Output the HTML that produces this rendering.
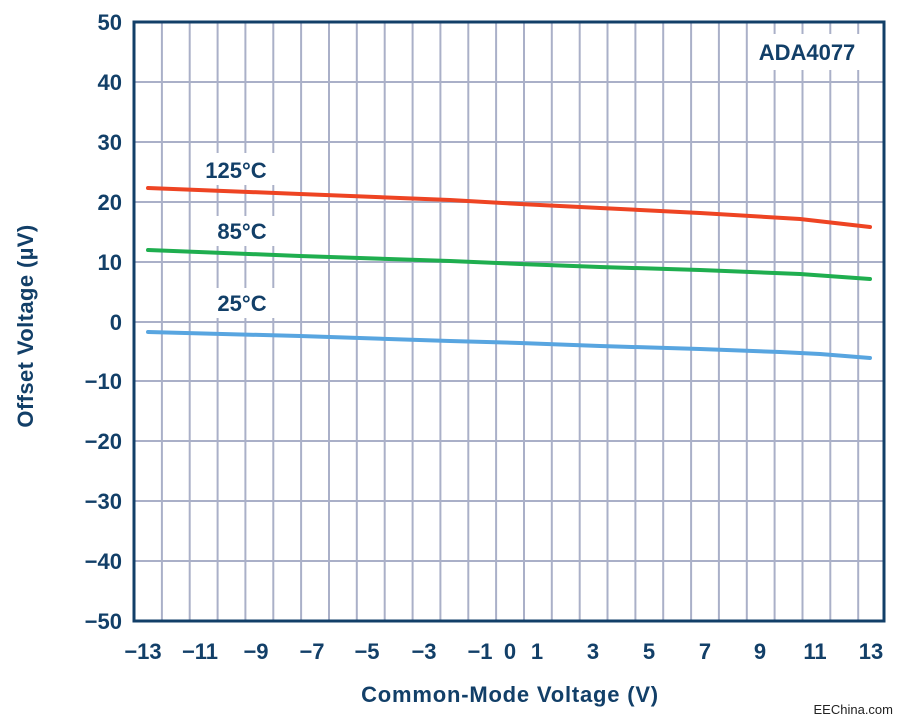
<!DOCTYPE html>
<html><head><meta charset="utf-8"><style>
html,body{margin:0;padding:0;background:#fff;}
svg text{font-family:"Liberation Sans",Arial,sans-serif;font-weight:bold;fill:#123f68;}
</style></head><body>
<svg width="902" height="721" viewBox="0 0 902 721" xmlns="http://www.w3.org/2000/svg">
<g stroke="#aab0c8" stroke-width="2">
<line x1="161.9" y1="22" x2="161.9" y2="621"/><line x1="189.7" y1="22" x2="189.7" y2="621"/><line x1="217.6" y1="22" x2="217.6" y2="621"/><line x1="245.4" y1="22" x2="245.4" y2="621"/><line x1="273.3" y1="22" x2="273.3" y2="621"/><line x1="301.1" y1="22" x2="301.1" y2="621"/><line x1="329" y1="22" x2="329" y2="621"/><line x1="356.8" y1="22" x2="356.8" y2="621"/><line x1="384.7" y1="22" x2="384.7" y2="621"/><line x1="412.6" y1="22" x2="412.6" y2="621"/><line x1="440.4" y1="22" x2="440.4" y2="621"/><line x1="468.3" y1="22" x2="468.3" y2="621"/><line x1="496.1" y1="22" x2="496.1" y2="621"/><line x1="524" y1="22" x2="524" y2="621"/><line x1="551.8" y1="22" x2="551.8" y2="621"/><line x1="579.7" y1="22" x2="579.7" y2="621"/><line x1="607.5" y1="22" x2="607.5" y2="621"/><line x1="635.4" y1="22" x2="635.4" y2="621"/><line x1="663.2" y1="22" x2="663.2" y2="621"/><line x1="691.1" y1="22" x2="691.1" y2="621"/><line x1="718.9" y1="22" x2="718.9" y2="621"/><line x1="746.8" y1="22" x2="746.8" y2="621"/><line x1="774.6" y1="22" x2="774.6" y2="621"/><line x1="802.5" y1="22" x2="802.5" y2="621"/><line x1="830.3" y1="22" x2="830.3" y2="621"/><line x1="858.2" y1="22" x2="858.2" y2="621"/>
<line x1="134" y1="82" x2="884" y2="82"/><line x1="134" y1="142" x2="884" y2="142"/><line x1="134" y1="202" x2="884" y2="202"/><line x1="134" y1="262" x2="884" y2="262"/><line x1="134" y1="322" x2="884" y2="322"/><line x1="134" y1="381" x2="884" y2="381"/><line x1="134" y1="441" x2="884" y2="441"/><line x1="134" y1="501" x2="884" y2="501"/><line x1="134" y1="561" x2="884" y2="561"/>
</g>
<rect x="752" y="34" width="111" height="36" fill="#fff"/>
<text x="807" y="60" font-size="22" text-anchor="middle">ADA4077</text>
<rect x="195" y="153" width="80" height="32" fill="#fff"/>
<rect x="208" y="216" width="67" height="30" fill="#fff"/>
<rect x="208" y="288" width="67" height="30" fill="#fff"/>
<text x="236" y="178" font-size="22" text-anchor="middle">125°C</text>
<text x="242" y="239" font-size="22" text-anchor="middle">85°C</text>
<text x="242" y="311" font-size="22" text-anchor="middle">25°C</text>
<g fill="none" stroke-width="4" stroke-linecap="round">
<polyline stroke="#ee4423" points="148,188 300,194 450,200 520,204 600,208 700,213 800,219 870,227"/>
<polyline stroke="#1fae4f" points="148,250 300,256 450,261 520,264 600,267 700,270 800,274 870,279"/>
<polyline stroke="#58a5e0" points="148,332 300,336 450,341 520,343 600,346 700,349 780,352 820,354 870,358"/>
</g>
<rect x="134" y="22" width="750" height="599" fill="none" stroke="#123f68" stroke-width="3"/>
<g font-size="22" text-anchor="end">
<text x="122" y="30">50</text><text x="122" y="90">40</text><text x="122" y="150">30</text><text x="122" y="210">20</text><text x="122" y="270">10</text><text x="122" y="330">0</text><text x="122" y="389">−10</text><text x="122" y="449">−20</text><text x="122" y="509">−30</text><text x="122" y="569">−40</text><text x="122" y="629">−50</text>
</g>
<g font-size="22" text-anchor="middle">
<text x="143" y="659">−13</text><text x="200" y="659">−11</text><text x="256" y="659">−9</text><text x="312" y="659">−7</text><text x="367" y="659">−5</text><text x="424" y="659">−3</text><text x="480" y="659">−1</text><text x="510" y="659">0</text><text x="537" y="659">1</text><text x="593" y="659">3</text><text x="649" y="659">5</text><text x="705" y="659">7</text><text x="760" y="659">9</text><text x="815" y="659">11</text><text x="871" y="659">13</text>
</g>
<text x="510" y="702" font-size="22" text-anchor="middle" letter-spacing="0.8">Common-Mode Voltage (V)</text>
<text transform="translate(33,326) rotate(-90)" font-size="22" text-anchor="middle" letter-spacing="0.4">Offset Voltage (µV)</text>
<text x="893" y="714" font-size="13" text-anchor="end" style="font-weight:normal;fill:#222">EEChina.com</text>
</svg>
</body></html>
